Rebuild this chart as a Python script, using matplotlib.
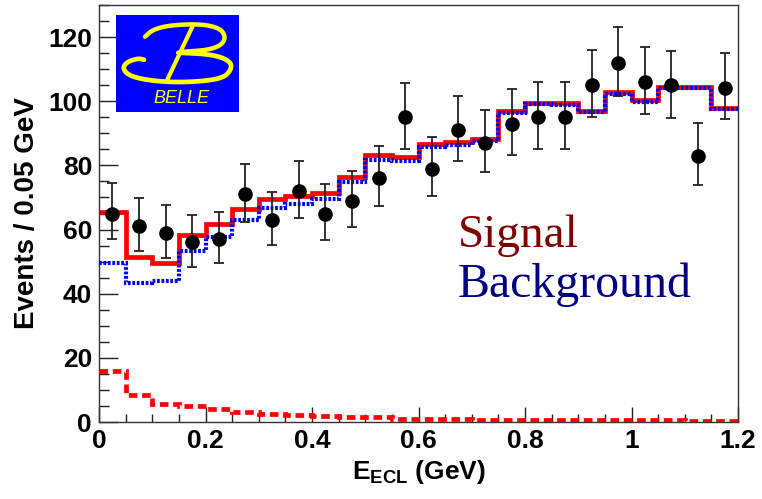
import numpy as np
import matplotlib
matplotlib.use("Agg")
import matplotlib.pyplot as plt
from matplotlib.patches import Rectangle

plt.rcParams['font.family'] = ['Liberation Sans', 'DejaVu Sans']
plt.rcParams['font.weight'] = 'bold'
plt.rcParams['mathtext.fontset'] = 'custom'
plt.rcParams['mathtext.rm'] = 'Liberation Sans:bold'
plt.rcParams['mathtext.bf'] = 'Liberation Sans:bold'
plt.rcParams['lines.scale_dashes'] = False

# binning: 24 bins of 0.05 GeV
bin_edges = np.round(np.arange(0, 1.2001, 0.05), 3)

n_obs = [65, 61, 59, 56, 57, 71, 63, 72, 65, 69, 76, 95,
         79, 91, 87, 93, 95, 95, 105, 112, 106, 105, 83, 104]
err_up = [9.5, 8.8, 8.7, 8.6, 8.6, 9.4, 8.7, 9.4, 9.1, 9.3, 10.0, 10.8,
          10.0, 10.7, 10.4, 10.7, 10.9, 10.9, 10.9, 11.1, 10.8, 10.6, 10.3, 10.9]
err_dn = [8.0, 7.8, 8.0, 7.8, 7.5, 8.6, 7.8, 8.4, 8.3, 8.2, 8.7, 10.0,
          8.7, 9.6, 9.2, 9.7, 10.0, 10.0, 9.8, 10.5, 10.0, 10.1, 9.1, 9.6]

fit_total = [65.5, 51.5, 49.5, 58.4, 61.7, 66.3, 69.4, 70.3, 71.4, 76.3, 83.3, 82.5,
             86.7, 87.2, 88.2, 97.0, 99.6, 99.3, 97.0, 102.9, 100.4, 104.5, 104.5, 98.0]
fit_bkg = [49.6, 43.3, 44.0, 53.3, 57.7, 63.0, 66.7, 68.0, 69.4, 74.8, 81.8, 81.5,
           85.7, 86.2, 87.6, 96.4, 99.0, 98.8, 96.5, 102.4, 99.9, 104.0, 104.1, 97.7]
fit_sig = [15.9, 8.4, 5.5, 5.0, 3.9, 3.2, 2.6, 2.2, 2.0, 1.5, 1.5, 1.0,
           1.0, 1.0, 0.6, 0.6, 0.6, 0.5, 0.5, 0.5, 0.5, 0.5, 0.4, 0.3]

xticks = [0, 0.2, 0.4, 0.6, 0.8, 1.0, 1.2]
xtick_labels = ['0', '0.2', '0.4', '0.6', '0.8', '1', '1.2']
yticks = [0, 20, 40, 60, 80, 100, 120]

W, H = 762, 499
fig = plt.figure(figsize=(W / 100, H / 100), dpi=100)
ax = fig.add_axes([99 / W, 77 / H, 639 / W, 417 / H])

ax.stairs(fit_total, bin_edges, baseline=None, color='#ff0000', lw=3.4, zorder=2)
ax.stairs(fit_bkg, bin_edges, baseline=None, color='#0000ff', lw=3.0,
          linestyle=(0, (2.0, 1.2)), zorder=3)
ax.stairs(fit_sig, bin_edges, baseline=None, color='#ff0000', lw=3.4,
          linestyle=(0, (6.2, 3.4)), zorder=3)

centers = 0.5 * (bin_edges[:-1] + bin_edges[1:])
ax.errorbar(centers, n_obs, yerr=[err_dn, err_up], fmt='o', color='black',
            ms=9.5, ecolor='#222222', elinewidth=1.3, capsize=3.6, capthick=1.3,
            zorder=5)

ax.set_xlim(0, 1.2)
ax.set_ylim(0, 130)
ax.set_xticks(xticks)
ax.set_xticklabels(xtick_labels)
ax.set_yticks(yticks)
ax.set_xticks(bin_edges, minor=True)
ax.set_yticks(np.arange(0, 131, 5), minor=True)
ax.tick_params(which='both', direction='in', top=False, right=False,
               labelsize=19, width=1.0, color='#222222')
ax.tick_params(axis='y', which='major', length=14, pad=5)
ax.tick_params(axis='y', which='minor', length=7)
ax.tick_params(axis='x', which='major', length=11, pad=5)
ax.tick_params(axis='x', which='minor', length=5.5)
for s in ax.spines.values():
    s.set_linewidth(1.0)
    s.set_color('#333333')

ax.set_xlabel(r'E$_{\rm ECL}$ (GeV)', fontsize=19, fontweight='bold', labelpad=4)
ax.set_ylabel('Events / 0.05 GeV', fontsize=20, fontweight='bold', labelpad=6)

ax.text(0.562, 0.42, 'Signal', transform=ax.transAxes, color='#800000',
        fontsize=34, family='Liberation Serif', fontweight='normal', va='baseline')
ax.text(0.562, 0.30, 'Background', transform=ax.transAxes, color='#000080',
        fontsize=34.5, family='Liberation Serif', fontweight='normal', va='baseline')


# Belle logo, drawn in its own pixel-unit axes
def chaikin(pts, n=3):
    pts = np.asarray(pts, float)
    for _ in range(n):
        q = 0.75 * pts[:-1] + 0.25 * pts[1:]
        r = 0.25 * pts[:-1] + 0.75 * pts[1:]
        new = np.empty((2 * len(q), 2))
        new[0::2] = q
        new[1::2] = r
        pts = np.vstack([pts[0], new, pts[-1]])
    return pts


lw_, lh_ = 123.3, 97.3
logo = fig.add_axes([116 / W, (H - 112.3) / H, lw_ / W, lh_ / H])
logo.set_xlim(0, lw_)
logo.set_ylim(0, lh_)
logo.axis('off')
logo.add_patch(Rectangle((0, 0), lw_, lh_, color='#0000ff'))

upper = [(29, 75.6), (37.3, 83), (55.7, 87.3), (85.7, 88.3), (104, 84),
         (109.7, 75.6), (105.7, 67.3), (92.3, 62.3), (67.3, 60.6)]
lower = [(62.3, 59.6), (95.7, 58), (114, 51.6), (115.7, 43.3), (107.3, 34),
         (79, 30.3), (45.7, 30.3), (15.7, 35), (6.3, 43.3), (10.7, 50.3),
         (22.3, 54), (28, 52.5)]
stem = [(76.7, 86.3), (50.7, 31.3)]
for pts, lw in ((upper, 3.2), (lower, 3.4), (stem, 3.0)):
    p = chaikin(pts) if len(pts) > 2 else np.asarray(pts, float)
    logo.plot(p[:, 0], p[:, 1], color='#ffff00', lw=lw, solid_capstyle='round',
              solid_joinstyle='round')
logo.text(65, 14, 'BELLE', color='#ffff00', fontsize=13, fontweight='normal',
          style='italic', ha='center', va='center')

fig.savefig('out.png', dpi=100)
